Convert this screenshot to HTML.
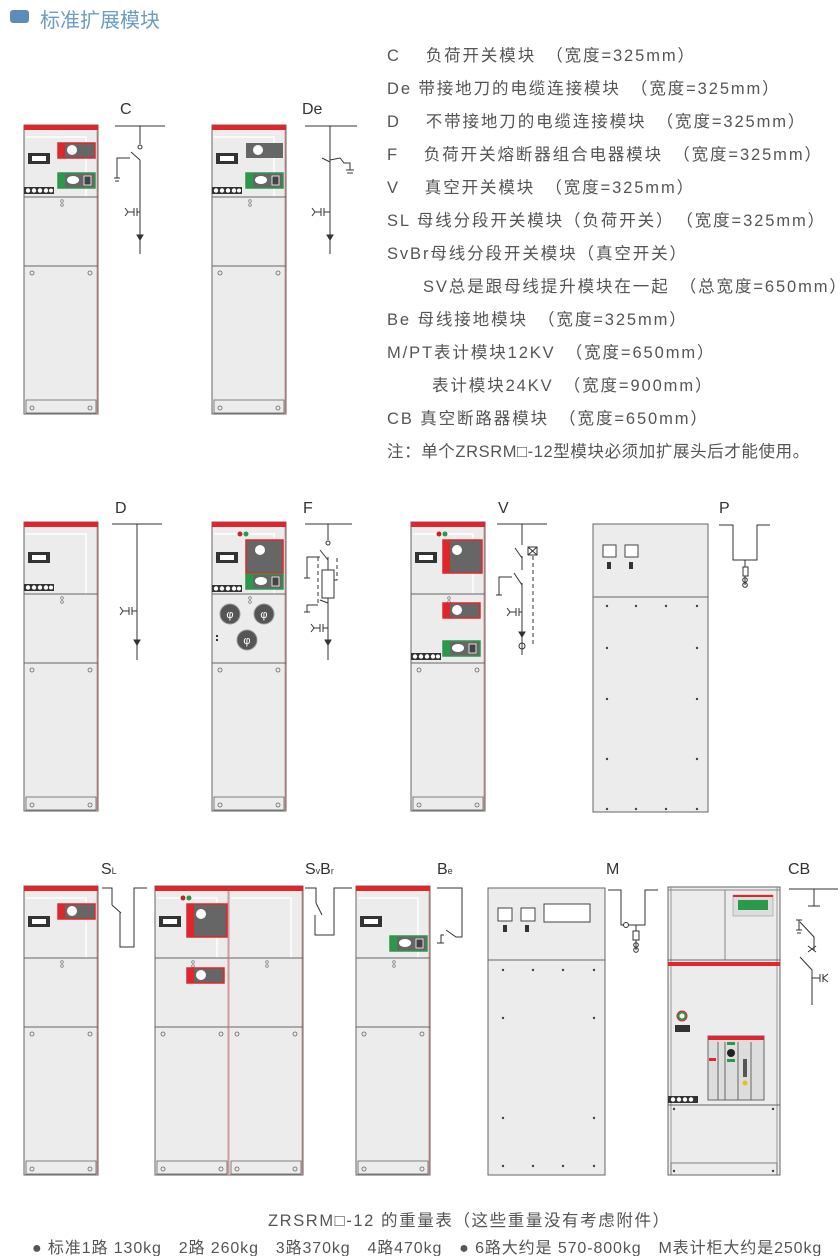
<!DOCTYPE html>
<html><head><meta charset="utf-8"><style>
body{margin:0;background:#fff;}
#w{position:relative;width:840px;height:1256px;overflow:hidden;font-family:"Liberation Sans","Noto Sans CJK SC",sans-serif;}
.t{position:absolute;font-size:16.5px;color:#555;white-space:nowrap;letter-spacing:1.9px;}
</style></head><body><div id="w">
<svg width="840" height="1256" style="position:absolute;left:0;top:0" font-family="Liberation Sans, Noto Sans CJK SC, sans-serif">
<defs>
<g id="cab">
 <rect x="0" y="0" width="74" height="289" fill="#ececec" stroke="#666" stroke-width="1"/>
 <rect x="0" y="0" width="74" height="5" fill="#e0262b"/>
 <line x1="73" y1="5" x2="73" y2="289" stroke="#d99" stroke-width="1"/>
 <path d="M2 12 H62 V72" fill="none" stroke="#fff" stroke-width="1.5"/>
 <line x1="0" y1="72" x2="74" y2="72" stroke="#666"/>
 <line x1="0" y1="141" x2="74" y2="141" stroke="#666"/>
 <circle cx="8" cy="148" r="2" fill="none" stroke="#666" stroke-width="0.8"/>
 <circle cx="66" cy="148" r="2" fill="none" stroke="#666" stroke-width="0.8"/>
 <rect x="2" y="275" width="70" height="13" fill="#ececec" stroke="#666" stroke-width="0.8"/>
 <circle cx="8" cy="283" r="2" fill="none" stroke="#666" stroke-width="0.8"/>
 <circle cx="66" cy="283" r="2" fill="none" stroke="#666" stroke-width="0.8"/>
 <circle cx="38" cy="76" r="1.3" fill="none" stroke="#666" stroke-width="0.6"/>
 <circle cx="38" cy="80" r="1.3" fill="none" stroke="#666" stroke-width="0.6"/>
</g>
<g id="win"><rect x="0" y="0" width="22" height="11" fill="#333"/><rect x="4" y="3" width="14" height="5" fill="#fff"/></g>
<g id="strip"><rect x="0" y="0" width="30" height="7" fill="#333"/><circle cx="4" cy="3.5" r="2.2" fill="#fff"/><circle cx="10" cy="3.5" r="2.2" fill="#fff"/><circle cx="16" cy="3.5" r="2.2" fill="#fff"/><circle cx="22" cy="3.5" r="2.2" fill="#fff"/><circle cx="27" cy="3.5" r="2" fill="#fff"/></g>
<g id="redp"><rect x="0" y="0" width="37" height="15" fill="#666" stroke="#e0262b" stroke-width="1.5"/><rect x="1" y="1" width="6" height="13" fill="#e0262b"/><circle cx="14" cy="7" r="5" fill="#fff"/></g>
<g id="grnp"><rect x="0" y="0" width="37" height="15" fill="#666" stroke="#2a9a4a" stroke-width="1.5"/><rect x="1" y="1" width="6" height="13" fill="#2a9a4a"/><ellipse cx="15" cy="7" rx="6" ry="4" fill="#fff"/><rect x="26" y="3" width="7" height="9" fill="#444" stroke="#fff" stroke-width="0.8"/></g>
</defs>

<rect x="10" y="10" width="19" height="13" rx="3" fill="#5b8db8"/>

<g transform="translate(24,125)"><use href="#cab"/><use href="#win" x="4" y="28"/><use href="#redp" x="34" y="18"/><use href="#grnp" x="34" y="48"/><use href="#strip" x="0" y="62"/></g>
<g transform="translate(212,125)"><use href="#cab"/><use href="#win" x="4" y="28"/><rect x="34" y="18" width="37" height="15" fill="#666"/><circle cx="46" cy="25" r="5" fill="#fff"/><use href="#grnp" x="34" y="48"/><use href="#strip" x="0" y="62"/></g>
<g stroke="#333" fill="none" stroke-width="1">
<line x1="115" y1="126" x2="165" y2="126"/><line x1="140" y1="126" x2="140" y2="144"/>
<circle cx="140" cy="147" r="2"/><line x1="140" y1="160" x2="131" y2="152"/><line x1="140" y1="160" x2="140" y2="254"/>
<path d="M130 158 H117 V178"/><line x1="114" y1="178" x2="120" y2="178"/><line x1="115" y1="181" x2="119" y2="181"/>
<path d="M125 208 L128 212 L125 216 M128 212 H134 M134 208 V216 M137 208 V216 M137 212 H140"/>
<path d="M137 235 L140 240 L143 235 Z" fill="#333"/>
</g>
<text x="120" y="114" font-size="16" fill="#333">C</text>
<g stroke="#333" fill="none" stroke-width="1">
<line x1="305" y1="126" x2="357" y2="126"/><line x1="330" y1="126" x2="330" y2="254"/>
<path d="M322 158 L330 162 M330 160 L340 158 L344 163 H350 V170"/><line x1="346" y1="170" x2="354" y2="170"/><line x1="347" y1="173" x2="353" y2="173"/>
<path d="M312 208 L315 212 L312 216 M315 212 H321 M321 208 V216 M324 208 V216 M324 212 H330"/>
<path d="M327 235 L330 240 L333 235 Z" fill="#333"/>
</g>
<text x="302" y="114" font-size="16" fill="#333">De</text>

<g transform="translate(24,522)"><use href="#cab"/><use href="#win" x="4" y="30"/><use href="#strip" x="0" y="62"/></g>
<g stroke="#333" fill="none" stroke-width="1">
<line x1="112" y1="524" x2="162" y2="524"/><line x1="137" y1="524" x2="137" y2="660"/>
<path d="M120 607 L123 611 L120 615 M123 611 H129 M129 607 V615 M132 607 V615 M132 611 H137"/>
<path d="M134 640 L137 645 L140 640 Z" fill="#333"/>
</g>
<text x="115" y="513" font-size="16" fill="#333">D</text>

<g transform="translate(212,522)"><use href="#cab"/><use href="#win" x="4" y="30"/><rect x="34" y="18" width="37" height="33" fill="#666" stroke="#e0262b" stroke-width="1.5"/><circle cx="48" cy="28" r="5" fill="#fff"/><use href="#grnp" x="34" y="52"/><use href="#strip" x="0" y="63"/>
<circle cx="28" cy="12" r="2.5" fill="#c0272d"/><circle cx="34" cy="12" r="2.5" fill="#2a9a4a"/>
<circle cx="18" cy="92" r="10" fill="#555" stroke="#999"/><circle cx="52" cy="92" r="10" fill="#555" stroke="#999"/><circle cx="35" cy="118" r="10" fill="#555" stroke="#999"/>
<text x="18" y="96" font-size="11" fill="#fff" text-anchor="middle">φ</text><text x="52" y="96" font-size="11" fill="#fff" text-anchor="middle">φ</text><text x="35" y="122" font-size="11" fill="#fff" text-anchor="middle">φ</text>
<rect x="4" y="113" width="2" height="2" fill="#333"/><rect x="4" y="117" width="2" height="2" fill="#333"/></g>
<g stroke="#333" fill="none" stroke-width="1">
<line x1="305" y1="524" x2="352" y2="524"/><line x1="328" y1="524" x2="328" y2="540"/><circle cx="328" cy="543" r="2"/>
<line x1="328" y1="560" x2="320" y2="550"/><line x1="328" y1="557" x2="328" y2="660"/>
<rect x="322" y="570" width="12" height="28" fill="#fff"/>
<path d="M320 557 H307 V578"/><line x1="304" y1="578" x2="310" y2="578"/>
<path d="M320 600 L328 603 M318 605 H307 V612"/><line x1="304" y1="612" x2="310" y2="612"/>
<path d="M311 624 L314 628 L311 632 M314 628 H320 M320 624 V632 M323 624 V632 M323 628 H328"/>
<path d="M325 640 L328 645 L331 640 Z" fill="#333"/>
<path d="M318 557 V603 M337 558 V580 H334" stroke-dasharray="4,3"/>
</g>
<text x="303" y="513" font-size="16" fill="#333">F</text>

<g transform="translate(411,522)"><use href="#cab"/><use href="#win" x="4" y="30"/><rect x="32" y="18" width="39" height="33" fill="#666" stroke="#e0262b" stroke-width="1.5"/><rect x="33" y="19" width="6" height="31" fill="#e0262b"/><circle cx="46" cy="28" r="5" fill="#fff"/>
<circle cx="28" cy="12" r="2.5" fill="#c0272d"/><circle cx="34" cy="12" r="2.5" fill="#2a9a4a"/>
<use href="#redp" x="32" y="81"/><use href="#grnp" x="32" y="119"/><use href="#strip" x="0" y="131"/></g>
<g stroke="#333" fill="none" stroke-width="1">
<line x1="497" y1="524" x2="547" y2="524"/><line x1="522" y1="524" x2="522" y2="545"/>
<line x1="522" y1="558" x2="515" y2="548"/><line x1="522" y1="556" x2="522" y2="570"/>
<rect x="528" y="547" width="9" height="8"/><path d="M528 547 L537 555 M537 547 L528 555"/>
<line x1="522" y1="585" x2="514" y2="573"/><line x1="522" y1="583" x2="522" y2="655"/>
<path d="M512 577 H499 V595"/><line x1="496" y1="595" x2="502" y2="595"/>
<path d="M507 608 L510 612 L507 616 M510 612 H516 M516 608 V616 M519 608 V616 M519 612 H522"/>
<path d="M519 632 L522 637 L525 632 Z" fill="#333"/><ellipse cx="522" cy="646" rx="3" ry="3"/>
<path d="M533 556 V645" stroke-dasharray="4,3"/>
</g>
<text x="498" y="513" font-size="16" fill="#333">V</text>

<g transform="translate(593,524)"><rect x="0" y="0" width="115" height="288" fill="#ececec" stroke="#666"/><line x1="0" y1="73" x2="115" y2="73" stroke="#666"/>
<rect x="10" y="21" width="13" height="12" fill="#fff" stroke="#444"/><rect x="32" y="21" width="13" height="12" fill="#fff" stroke="#444"/>
<rect x="14" y="38" width="4" height="7" fill="#333"/><rect x="36" y="38" width="4" height="7" fill="#333"/>
<g fill="#444"><circle cx="14" cy="82" r="1.2"/><circle cx="43" cy="82" r="1.2"/><circle cx="73" cy="82" r="1.2"/><circle cx="104" cy="82" r="1.2"/><circle cx="14" cy="124" r="1.2"/><circle cx="104" cy="124" r="1.2"/><circle cx="14" cy="175" r="1.2"/><circle cx="104" cy="175" r="1.2"/><circle cx="14" cy="235" r="1.2"/><circle cx="104" cy="235" r="1.2"/><circle cx="14" cy="285" r="1.2"/><circle cx="43" cy="285" r="1.2"/><circle cx="73" cy="285" r="1.2"/><circle cx="104" cy="285" r="1.2"/></g></g>
<g stroke="#333" fill="none" stroke-width="1">
<path d="M719 525 H733 V560 H757 V525 H770"/><line x1="745" y1="560" x2="745" y2="585"/><rect x="743" y="567" width="5" height="9" fill="#fff"/><circle cx="745" cy="580" r="2.3"/><circle cx="745" cy="585" r="2.3"/>
</g>
<text x="719" y="513" font-size="16" fill="#333">P</text>

<g transform="translate(24,886)"><use href="#cab"/><use href="#win" x="4" y="30"/><use href="#redp" x="34" y="18"/></g>
<g stroke="#333" fill="none" stroke-width="1">
<path d="M102 888 H112 V905 M112 905 L121 913 M120 912 V947 H134 V888 H147"/>
</g>
<text x="101" y="874" font-size="16" fill="#333">S<tspan font-size="9">L</tspan></text>

<g transform="translate(155,886)"><use href="#cab"/><use href="#win" x="4" y="30"/><rect x="32" y="18" width="40" height="33" fill="#666" stroke="#e0262b" stroke-width="1.5"/><rect x="33" y="19" width="6" height="31" fill="#e0262b"/><circle cx="46" cy="28" r="5" fill="#fff"/><use href="#redp" x="32" y="82"/><circle cx="28" cy="12" r="2.5" fill="#c0272d"/><circle cx="34" cy="12" r="2.5" fill="#2a9a4a"/></g>
<g transform="translate(229,886)"><use href="#cab"/></g>
<line x1="229" y1="891" x2="229" y2="1175" stroke="#c99" stroke-width="1"/>
<g stroke="#333" fill="none" stroke-width="1">
<path d="M305 888 H316 V903 M316 903 L322 915 M315 915 V935 H334 V888 H352"/>
</g>
<text x="305" y="874" font-size="16" fill="#333">S<tspan font-size="9">v</tspan>B<tspan font-size="9">r</tspan></text>

<g transform="translate(356,886)"><use href="#cab"/><use href="#win" x="4" y="30"/><use href="#grnp" x="34" y="50"/></g>
<g stroke="#333" fill="none" stroke-width="1">
<path d="M437 888 H462 V937 H456 L446 930 M444 935 H441 V943"/><line x1="437" y1="943" x2="444" y2="943"/>
</g>
<text x="437" y="874" font-size="16" fill="#333">B<tspan font-size="9">e</tspan></text>

<g transform="translate(488,888)"><rect x="0" y="0" width="117" height="287" fill="#ececec" stroke="#666"/><line x1="0" y1="72" x2="117" y2="72" stroke="#666"/>
<rect x="10" y="20" width="14" height="13" fill="#fff" stroke="#444"/><rect x="33" y="20" width="14" height="13" fill="#fff" stroke="#444"/><rect x="56" y="16" width="46" height="18" fill="#fff" stroke="#444"/>
<rect x="15" y="37" width="4" height="7" fill="#333"/><rect x="37" y="37" width="4" height="7" fill="#333"/>
<g fill="#444"><circle cx="15" cy="82" r="1.2"/><circle cx="45" cy="82" r="1.2"/><circle cx="75" cy="82" r="1.2"/><circle cx="106" cy="82" r="1.2"/><circle cx="15" cy="130" r="1.2"/><circle cx="106" cy="130" r="1.2"/><circle cx="15" cy="230" r="1.2"/><circle cx="106" cy="230" r="1.2"/><circle cx="15" cy="278" r="1.2"/><circle cx="45" cy="278" r="1.2"/><circle cx="75" cy="278" r="1.2"/><circle cx="106" cy="278" r="1.2"/></g></g>
<g stroke="#333" fill="none" stroke-width="1">
<path d="M608 890 H621 V925 H645 V890 H658"/><circle cx="626" cy="925" r="2.5" fill="#fff"/><line x1="636" y1="925" x2="636" y2="950"/><rect x="633" y="931" width="6" height="9" fill="#fff"/><circle cx="636" cy="945" r="2.3"/><circle cx="636" cy="950" r="2.3"/>
</g>
<text x="606" y="874" font-size="16" fill="#333">M</text>

<g transform="translate(668,887)"><rect x="0" y="0" width="112" height="288" fill="#ececec" stroke="#666"/>
<line x1="3" y1="0" x2="3" y2="288" stroke="#999"/><line x1="109" y1="0" x2="109" y2="288" stroke="#999"/>
<line x1="0" y1="3" x2="112" y2="3" stroke="#888"/><line x1="57" y1="3" x2="57" y2="73" stroke="#888"/>
<line x1="0" y1="73" x2="112" y2="73" stroke="#666"/><rect x="0" y="75" width="112" height="4" fill="#e0262b"/>
<rect x="65" y="8" width="40" height="21" fill="#ddd" stroke="#999" stroke-width="0.6"/><rect x="65" y="8" width="40" height="2" fill="#e0262b"/><rect x="70" y="13" width="30" height="10" fill="#2a9a4a"/>
<circle cx="14" cy="129" r="5" fill="#2a9a4a" stroke="#e0262b"/><circle cx="14" cy="129" r="2.5" fill="#fff"/><rect x="7" y="138" width="15" height="7" fill="#333"/>
<rect x="40" y="149" width="56" height="64" fill="#ddd" stroke="#666"/><rect x="40" y="149" width="56" height="4" fill="#e0262b"/>
<line x1="50" y1="155" x2="50" y2="213" stroke="#666"/><line x1="57" y1="155" x2="57" y2="213" stroke="#666"/><line x1="70" y1="155" x2="70" y2="213" stroke="#666"/><line x1="83" y1="155" x2="83" y2="213" stroke="#666"/>
<rect x="41" y="171" width="7" height="3" fill="#e0262b"/><circle cx="63" cy="166" r="4" fill="#222"/><rect x="59" y="155" width="8" height="3" fill="#2a9a4a"/><rect x="59" y="172" width="8" height="3" fill="#2a9a4a"/>
<rect x="75" y="172" width="4" height="18" fill="#555"/><circle cx="77" cy="196" r="2.5" fill="#e5c21a"/>
<rect x="0" y="209" width="30" height="7" fill="#333"/><circle cx="5" cy="212.5" r="2.2" fill="#fff"/><circle cx="11" cy="212.5" r="2.2" fill="#fff"/><circle cx="17" cy="212.5" r="2.2" fill="#fff"/><circle cx="23" cy="212.5" r="2.2" fill="#fff"/>
<line x1="0" y1="218" x2="112" y2="218" stroke="#666"/>
<g fill="#444"><circle cx="6" cy="222" r="1.2"/><circle cx="105" cy="222" r="1.2"/><circle cx="6" cy="284" r="1.2"/><circle cx="105" cy="284" r="1.2"/></g>
<rect x="3" y="276" width="106" height="12" fill="none" stroke="#666" stroke-width="0.8"/></g>
<g stroke="#333" fill="none" stroke-width="1">
<path d="M789 889 H838 M814 889 V906 M808 906 H820"/>
<path d="M800 922 L814 937 V950 M808 946 L816 952 M816 946 L808 952 M800 957 L812 970 V1005"/>
<path d="M796 920 H802 M799 920 V930 M796 930 H802 M797 933 H801"/>
<path d="M812 978 H820 M820 974 V982 M823 974 V982 M823 978 L828 974 M823 978 L828 982"/>
</g>
<text x="788" y="874" font-size="16" fill="#333">CB</text>
</svg>

<div class="t" style="left:40px;top:4px;font-size:20px;color:#6a9cc4;letter-spacing:0">标准扩展模块</div>
<div class="t" style="left:387px;top:42px">C　 负荷开关模块　（宽度=325mm）</div>
<div class="t" style="left:387px;top:75px">De  带接地刀的电缆连接模块　（宽度=325mm）</div>
<div class="t" style="left:387px;top:108px">D　 不带接地刀的电缆连接模块　（宽度=325mm）</div>
<div class="t" style="left:387px;top:141px">F　 负荷开关熔断器组合电器模块　（宽度=325mm）</div>
<div class="t" style="left:387px;top:174px">V　 真空开关模块　（宽度=325mm）</div>
<div class="t" style="left:387px;top:207px">SL  母线分段开关模块（负荷开关）　（宽度=325mm）</div>
<div class="t" style="left:387px;top:240px">SvBr母线分段开关模块（真空开关）</div>
<div class="t" style="left:423px;top:273px">SV总是跟母线提升模块在一起　（总宽度=650mm）</div>
<div class="t" style="left:387px;top:306px">Be  母线接地模块　（宽度=325mm）</div>
<div class="t" style="left:387px;top:339px">M/PT表计模块12KV　（宽度=650mm）</div>
<div class="t" style="left:432px;top:372px">表计模块24KV　（宽度=900mm）</div>
<div class="t" style="left:387px;top:405px">CB  真空断路器模块　（宽度=650mm）</div>
<div class="t" style="left:387px;top:438px;letter-spacing:0.6px">注：单个ZRSRM□-12型模块必须加扩展头后才能使用。</div>
<div class="t" style="left:268px;top:1207px;letter-spacing:1.6px">ZRSRM□-12 的重量表（这些重量没有考虑附件）</div>
<div class="t" style="left:32px;top:1234px;letter-spacing:0.9px;font-size:16px">● 标准1路 130kg　2路 260kg　3路370kg　4路470kg　● 6路大约是 570-800kg　M表计柜大约是250kg</div>
</div></body></html>
